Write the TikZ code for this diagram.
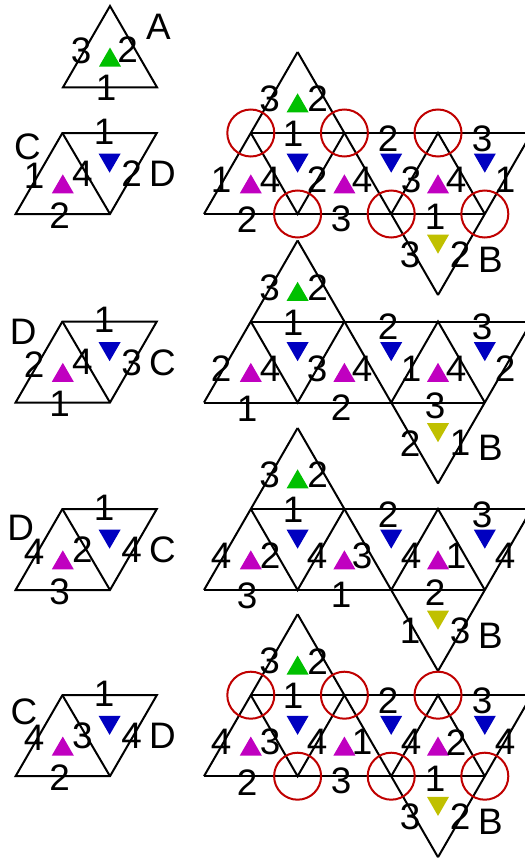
\documentclass[tikz,border=0pt]{standalone}
\usepackage{fontspec}
\setmainfont{Liberation Sans}
\definecolor{mgreen}{RGB}{0,192,0}
\definecolor{mmag}{RGB}{192,0,192}
\definecolor{mblue}{RGB}{0,0,192}
\definecolor{myel}{RGB}{192,192,0}
\definecolor{mred}{RGB}{192,0,0}
\tikzset{
  edge/.style={line width=2bp},
  lbl/.style={inner sep=0pt, anchor=center, font=\fontsize{37}{40}\selectfont},
  ring/.style={draw=mred, line width=2bp},
}
\newcommand\upmark[2]{\fill[#2] (#1) ++(-11,6.35) -- ++(22,0) -- ++(-11,-19.05) -- cycle;}
\newcommand\downmark[2]{\fill[#2] (#1) ++(-11,-6.35) -- ++(22,0) -- ++(-11,19.05) -- cycle;}
\def\bx{{269.5,317.5,293,388,482,221,270,317,362,411,456,505,247,341,435,410,460,490.5}}
\def\by{{-74.5,-74.5,-39.5,-35,-35,6.5,6.5,6.5,6.5,6.5,6.5,6.5,46.5,45.5,43.5,81.5,81,86}}
\def\rx{{104,34,82.3,131.6,162.5,59.5}}
\def\ry{{-42,2.5,0,0.5,0.5,42}}
\newcommand\netframe[1]{%
  \coordinate (#1P0) at (204,40.5);
  \coordinate (#1P1) at (297.6,40.5);
  \coordinate (#1P2) at (391.2,40.5);
  \coordinate (#1P3) at (484.8,40.5);
  \coordinate (#1Q0) at (250.8,-40.5);
  \coordinate (#1Q1) at (344.4,-40.5);
  \coordinate (#1Q2) at (438,-40.5);
  \coordinate (#1Q3) at (531.6,-40.5);
  \coordinate (#1T) at (297.6,-121.5);
  \coordinate (#1B) at (438,121.5);
  \coordinate (#1r1) at (15.6,40.5);
  \coordinate (#1r2) at (110,40.5);
  \coordinate (#1r3) at (156.8,-40.5);
  \coordinate (#1r4) at (62.4,-40.5);
  \draw[edge] (#1Q0) -- (#1Q3);
  \draw[edge] (#1P0) -- (#1P3);
  \draw[edge] (#1P0) -- (#1T);
  \draw[edge] (#1T) -- (#1B);
  \draw[edge] (#1Q0) -- (#1P1) -- (#1Q1);
  \draw[edge] (#1P2) -- (#1Q2) -- (#1P3);
  \draw[edge] (#1B) -- (#1Q3);
  \draw[edge] (#1r1) -- (#1r2) -- (#1r3) -- (#1r4) -- cycle;
  \draw[edge] (#1r4) -- (#1r2);
  \upmark{297.6,-67.5}{mgreen}
  \downmark{297.6,-13.5}{mblue}
  \downmark{391.2,-13.5}{mblue}
  \downmark{484.8,-13.5}{mblue}
  \upmark{250.8,13.5}{mmag}
  \upmark{344.4,13.5}{mmag}
  \upmark{438,13.5}{mmag}
  \downmark{438,67.5}{myel}
  \upmark{62.8,13.5}{mmag}
  \downmark{109.6,-13.5}{mblue}
}
\newcommand\netlabels[2]{%
  \foreach \t [count=\i from 0] in {#2} {
    \pgfmathsetmacro\px{\bx[\i]}
    \pgfmathsetmacro\py{\by[\i]}
    \node[lbl] (#1n\i) at (\px,\py) {\t};
  }}
\newcommand\rhlabels[2]{%
  \foreach \t [count=\i from 0] in {#2} {
    \pgfmathsetmacro\px{\rx[\i]}
    \pgfmathsetmacro\py{\ry[\i]}
    \node[lbl] (#1m\i) at (\px,\py) {\t};
  }}
\newcommand\rings[1]{%
  \foreach \v in {Q0,Q1,Q2,P1,P2,P3} {\draw[ring] (#1\v) circle[radius=23.5];}
}
\begin{document}
\begin{tikzpicture}[x=1bp,y=-1bp]
\useasboundingbox (0,0) rectangle (525,862);
\clip (0,0) rectangle (525,862);
\fill[white] (0,0) rectangle (525,862);
% group 1
\begin{scope}[shift={(0,173.5)}]
  \netframe{a}
  \coordinate (aA1) at (63,-86.2);
  \coordinate (aA2) at (157,-86.2);
  \coordinate (aA3) at (110,-167.5);
  \draw[edge] (aA1) -- (aA2) -- (aA3) -- cycle;
  \upmark{110,-113.3}{mgreen}
  \node[lbl] (aAl) at (81.2,-122.7) {3};
  \node[lbl] (aAr) at (127.5,-124) {2};
  \node[lbl] (aAb) at (106,-85.5) {1};
  \node[lbl] (aAn) at (158.3,-146.8) {A};
  \rings{a}
  \netlabels{a}{3,2,1,2,3,1,4,2,4,3,4,1,2,3,1,3,2,B}
  \node[lbl] (aL) at (27.5,-26.8) {C};
  \rhlabels{a}{1,1,4,2,D,2}
\end{scope}
% group 2
\begin{scope}[shift={(0,362)}]
  \netframe{b}
  \netlabels{b}{3,2,1,2,3,2,4,3,4,1,4,2,1,2,3,2,1,B}
  \node[lbl] (bL) at (23.3,-29.7) {D};
  \rhlabels{b}{1,2,4,3,C,1}
\end{scope}
% group 3
\begin{scope}[shift={(0,549.5)}]
  \netframe{c}
  \netlabels{c}{3,2,1,2,3,4,2,4,3,4,1,4,3,1,2,1,3,B}
  \node[lbl] (cL) at (20.7,-21.2) {D};
  \rhlabels{c}{1,4,2,4,C,3}
\end{scope}
% group 4
\begin{scope}[shift={(0,735.7)}]
  \netframe{d}
  \rings{d}
  \netlabels{d}{3,2,1,2,3,4,3,4,1,4,2,4,2,3,1,3,2,B}
  \node[lbl] (dL) at (24,-24) {C};
  \rhlabels{d}{1,4,3,4,D,2}
\end{scope}
\end{tikzpicture}
\end{document}
